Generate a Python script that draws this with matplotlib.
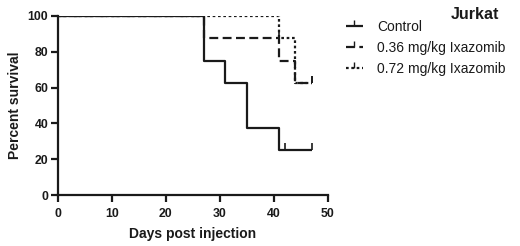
import matplotlib
matplotlib.use("Agg")
import matplotlib.pyplot as plt
from matplotlib.lines import Line2D

plt.rcParams['font.family'] = ['Liberation Sans', 'DejaVu Sans']

series_names = ["Control", "0.36 mg/kg Ixazomib", "0.72 mg/kg Ixazomib"]
control_t = [0, 27, 31, 35, 41, 47]
control_s = [100, 75, 62.5, 37.5, 25, 25]
control_cens_t = [42, 47]
control_cens_s = [25, 25]
low_t = [0, 27, 41, 44, 47]
low_s = [100, 87.5, 75, 62.5, 62.5]
low_cens_t = [41, 47]
low_cens_s = [87.5, 62.5]
high_t = [0, 41, 44, 47]
high_s = [100, 87.5, 62.5, 62.5]
high_cens_t = [47]
high_cens_s = [62.5]
x_ticks = [0, 10, 20, 30, 40, 50]
y_ticks = [0, 20, 40, 60, 80, 100]

C = '#1a1a1a'
fig = plt.figure(figsize=(5.2, 2.46), dpi=100)
ax = fig.add_axes([0.1115, 0.207, 0.519, 0.728])

styles = [(0, ()), (0, (4, 2)), (0, (1.2, 1.2))]
data = [(control_t, control_s, control_cens_t, control_cens_s),
        (low_t, low_s, low_cens_t, low_cens_s),
        (high_t, high_s, high_cens_t, high_cens_s)]
for i in [2, 1, 0]:
    t, s, ct, cs = data[i]
    ax.plot(t, s, drawstyle='steps-post', color=C, lw=1.6,
            linestyle=styles[i], solid_capstyle='butt', dash_capstyle='butt')
    ax.plot(ct, cs, linestyle='none', marker=2, ms=5, mew=1.2, color=C)

ax.set_xlim(0, 50)
ax.set_ylim(0, 100)
ax.set_xticks(x_ticks)
ax.set_yticks(y_ticks)
for sp in ['top', 'right']:
    ax.spines[sp].set_visible(False)
for sp in ['left', 'bottom']:
    ax.spines[sp].set_linewidth(1.6)
    ax.spines[sp].set_color(C)
ax.tick_params(direction='out', length=5, width=1.6, color=C,
               labelsize=8.8, pad=2)
ax.tick_params(axis='x', pad=4)
for lab in ax.get_xticklabels() + ax.get_yticklabels():
    lab.set_fontweight('bold')
    lab.set_color(C)
ax.set_xlabel("Days post injection", fontsize=10, fontweight='bold', color=C, labelpad=5)
ax.set_ylabel("Percent survival", fontsize=10, fontweight='bold', color=C, labelpad=4)

handles = [Line2D([0], [0], color=C, lw=1.6, linestyle=styles[i],
                  marker=2, ms=4, mew=1.0) for i in range(3)]
leg = fig.legend(handles, series_names, loc='upper left', numpoints=1,
                 bbox_to_anchor=(0.665, 0.92), frameon=False, fontsize=10,
                 handlelength=1.25, handletextpad=1.0, labelspacing=0.5,
                 borderaxespad=0, borderpad=0)
for txt in leg.get_texts():
    txt.set_color(C)
fig.text(0.96, 0.97, "Jurkat", ha='right', va='top', fontsize=11.5,
         fontweight='bold', color=C)

fig.savefig("out.png", dpi=100)
